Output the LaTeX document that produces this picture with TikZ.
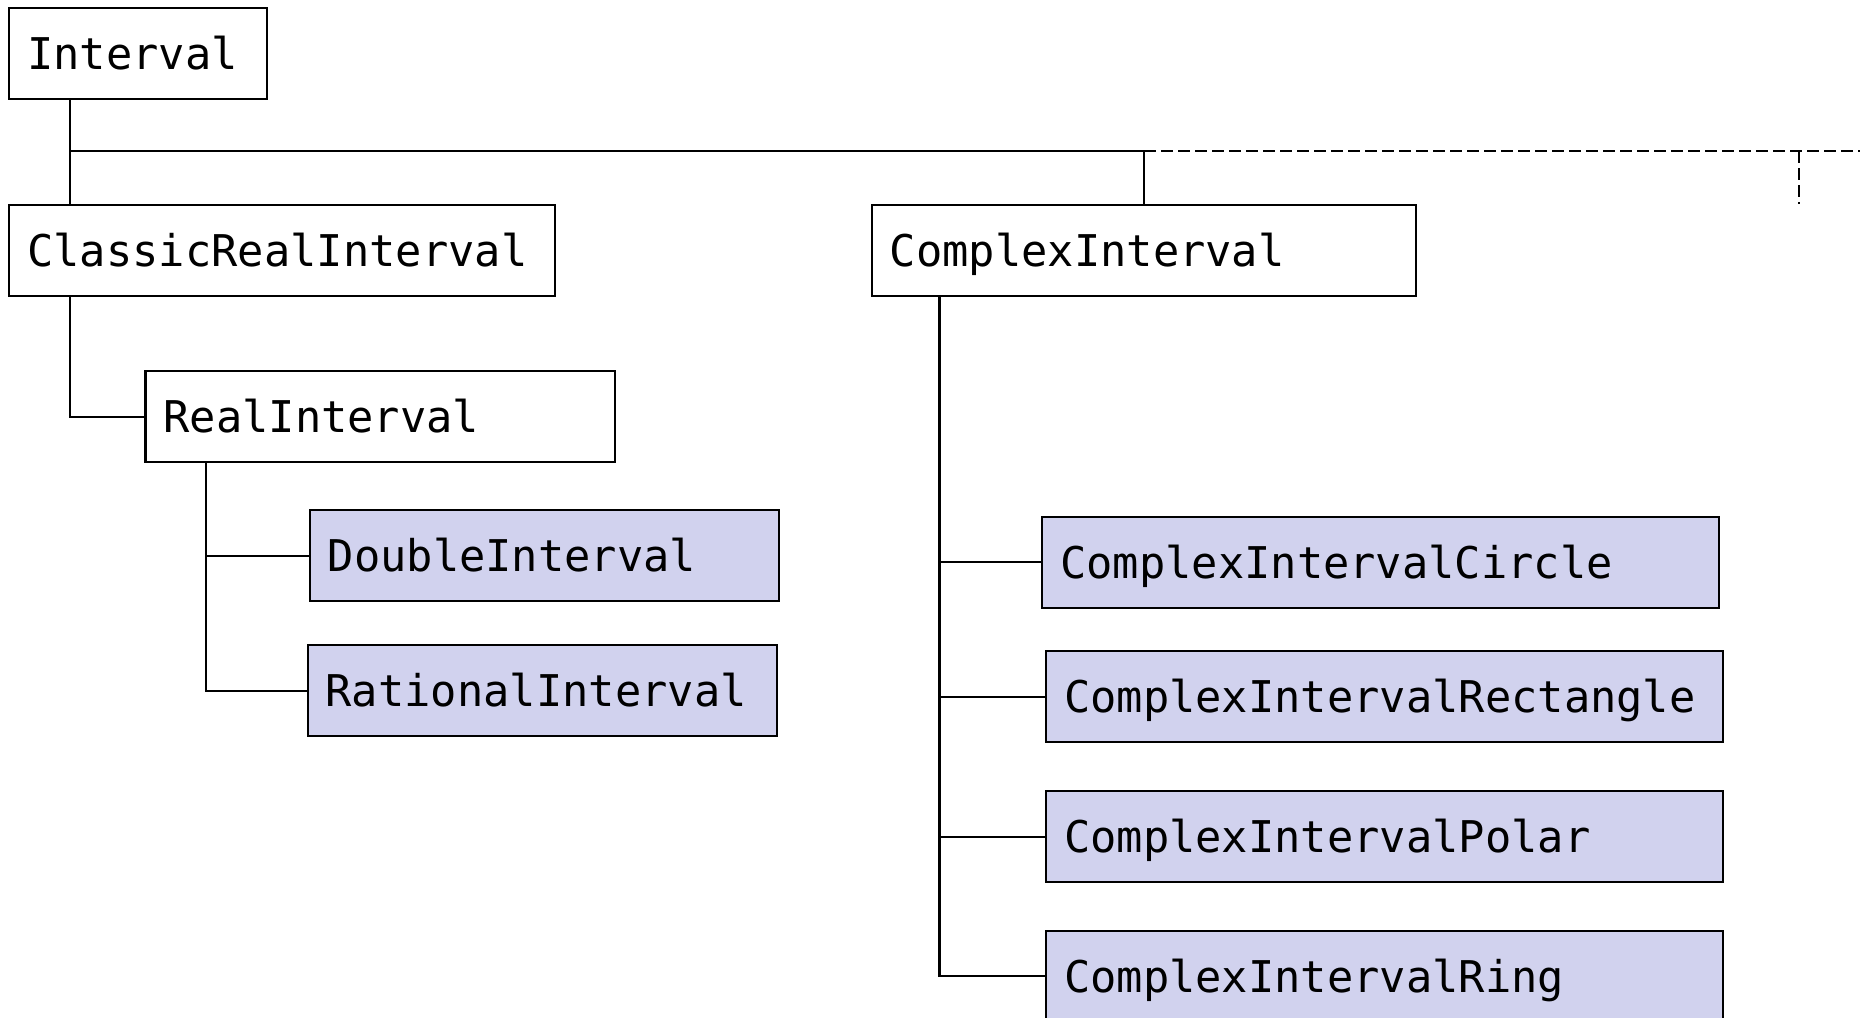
\documentclass[tikz,border=0pt]{standalone}
\usepackage{fontspec}
\newfontfamily\monof{DejaVu Sans Mono}
\usetikzlibrary{calc}
\definecolor{leaf}{RGB}{209,210,238}
\begin{document}
\begin{tikzpicture}[x=0.01cm,y=-0.01cm,
  cls/.style={draw=black, line width=0.6pt, rectangle, inner xsep=0.18cm, inner ysep=0pt,
    minimum height=0.91cm, anchor=north west, align=left,
    font=\monof\fontsize{12.43pt}{14pt}\selectfont, text height=9.06pt, text depth=0pt},
  leafcls/.style={cls, fill=leaf},
  conn/.style={line width=0.6pt, draw=black},
  future/.style={conn, dash pattern=on 0.12cm off 0.05cm}]
\useasboundingbox (0,0) rectangle (1860,1017);

% nodes
\node[cls, text width=2.214cm] (int) at (8.3,7.3) {Interval};
\node[cls, text width=5.09cm] (crl) at (8.3,204) {ClassicRealInterval};
\node[cls, text width=5.08cm] (cpx) at (870.8,204) {ComplexInterval};
\node[cls, text width=4.334cm] (real) at (144.4,370) {RealInterval};
\node[leafcls, text width=4.333cm] (dbl) at (308.7,509) {DoubleInterval};
\node[leafcls, text width=4.334cm] (rat) at (306.6,644.3) {RationalInterval};
\node[leafcls, text width=6.40cm] (cir) at (1041.1,515.7) {ComplexIntervalCircle};
\node[leafcls, text width=6.407cm] (rec) at (1045,650) {ComplexIntervalRectangle};
\node[leafcls, text width=6.406cm] (pol) at (1045,790.3) {ComplexIntervalPolar};
\node[leafcls, text width=6.406cm] (rin) at (1045,929.7) {ComplexIntervalRing};

% helper coordinates
\coordinate (bus) at (69.6,151);
\coordinate (ext) at (1860,151);
\coordinate (dv) at (1798.8,204);
\coordinate (rt) at (205.6,0);
\coordinate (ct) at (939.5,0);

% Interval hierarchy
\draw[conn] (int.south -| bus) -- (crl.north -| bus);
\draw[conn] (bus) -- (bus -| cpx.north) -- (cpx.north);
\draw[future] (bus -| cpx.north) -- (ext);
\draw[future] (bus -| dv) -- (dv);

% ClassicRealInterval -> RealInterval
\draw[conn] (crl.south -| bus) |- (real.west);

% RealInterval children
\draw[conn] (real.south -| rt) |- (rat.west);
\draw[conn] (dbl.west -| rt) -- (dbl.west);

% ComplexInterval children
\draw[conn] (cpx.south -| ct) |- (rin.west);
\draw[conn] (cir.west -| ct) -- (cir.west);
\draw[conn] (rec.west -| ct) -- (rec.west);
\draw[conn] (pol.west -| ct) -- (pol.west);
\end{tikzpicture}
\end{document}
